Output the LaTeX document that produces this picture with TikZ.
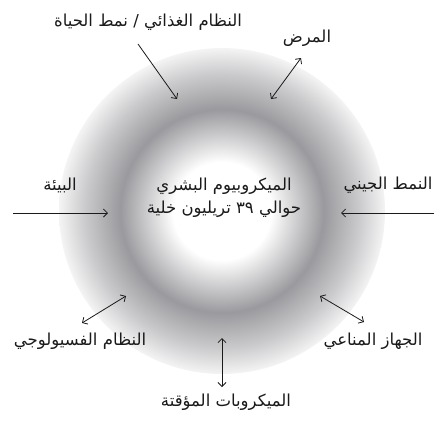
\documentclass[tikz,border=0pt]{standalone}
\usepackage{fontspec}
\usepackage{tikz}
\usetikzlibrary{arrows.meta, positioning}
\newfontfamily\arabicfont[Script=Arabic]{DejaVu Sans}
\TeXXeTstate=1
\definecolor{gris}{HTML}{9A9A9E}
\definecolor{grismedio}{HTML}{CACACC}
\definecolor{grisclaro}{HTML}{F4F4F5}
\definecolor{tinta}{HTML}{1A1A1A}
\pgfdeclareradialshading{anillo}{\pgfpoint{0bp}{0bp}}{%
  color(0bp)=(white); color(7.5bp)=(white); color(15.6bp)=(gris);
  color(21bp)=(grismedio); color(25bp)=(grisclaro); color(50bp)=(white)}
\tikzset{
  every picture/.style={>={Straight Barb[length=4pt, width=8pt]}},
  rotulo/.style={text=tinta, font=\arabicfont\fontsize{16.5}{23}\selectfont,
                 inner sep=1pt, align=center},
  flecha/.style={->, line width=0.8pt, tinta},
  flechad/.style={<->, line width=0.8pt, tinta},
}

\begin{document}
\begin{tikzpicture}[x=1pt, y=-1pt]
  \useasboundingbox (0,0) rectangle (438,420);
  \coordinate (c) at (222,211);
  \shade[shading=anillo] (c) circle (163pt);
  % centro
  \node[rotulo] (micro) at (224,198)
    {\beginR الميكروبيوم البشري\endR\\\beginR حوالي \beginL٣٩\endL{} تريليون خلية\endR};
  % factores
  \node[rotulo] (dieta) at (148,22) {\beginR النظام الغذائي / نمط الحياة\endR};
  \node[rotulo] (mal) at (307,38) {\beginR المرض\endR};
  \node[rotulo] (amb) at (60,185) {\beginR البيئة\endR};
  \node[rotulo] (gen) at (388,185) {\beginR النمط الجيني\endR};
  \node[rotulo] (fis) at (80,341) {\beginR النظام الفسيولوجي\endR};
  \node[rotulo] (inm) at (373,341) {\beginR الجهاز المناعي\endR};
  \node[rotulo] (tran) at (226,402) {\beginR الميكروبات المؤقتة\endR};
  % extremos de las flechas
  \coordinate (d1) at (138,44);  \coordinate (d2) at (177,99);
  \coordinate (m1) at (271,99);  \coordinate (m2) at (301,58);
  \coordinate (a1) at (13,213);  \coordinate (a2) at (108,213);
  \coordinate (g1) at (434,213); \coordinate (g2) at (341,213);
  \coordinate (f1) at (82,323);  \coordinate (f2) at (126,296);
  \coordinate (i1) at (320,296); \coordinate (i2) at (364,322);
  \coordinate (t1) at (222,338); \coordinate (t2) at (222,387);
  \draw[flecha] (d1) -- (d2);
  \draw[flechad] (m1) -- (m2);
  \draw[flecha] (a1) -- (a2);
  \draw[flecha] (g1) -- (g2);
  \draw[flechad] (f1) -- (f2);
  \draw[flechad] (i1) -- (i2);
  \draw[flechad] (t1) -- (t2);
\end{tikzpicture}
\end{document}
